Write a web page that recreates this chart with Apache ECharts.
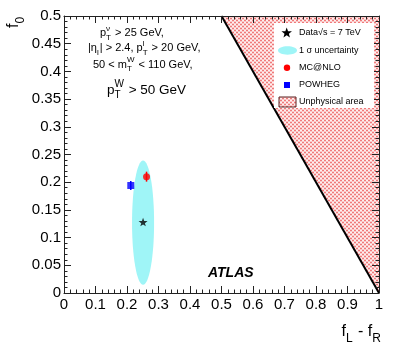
<!DOCTYPE html>
<html><head><meta charset="utf-8">
<script src="https://cdn.jsdelivr.net/npm/echarts@6/dist/echarts.min.js"></script>
<style>html,body{margin:0;padding:0;background:#fff}#c{width:399px;height:349px}</style>
</head><body><div id="c"></div>
<script>
// ---- data ----
const xTickLabels = ['0','0.1','0.2','0.3','0.4','0.5','0.6','0.7','0.8','0.9','1'];
const yTickLabels = ['0','0.05','0.1','0.15','0.2','0.25','0.3','0.35','0.4','0.45','0.5'];
const dataPoint = [0.251, 0.128];
const ellipseCenter = [0.251, 0.127];
const ellipseRadius = [0.035, 0.112];
const mcnloPoint = [0.262, 0.210];
const mcnloErr = [0.009];
const powhegPoint = [0.212, 0.194];
const powhegErr = [0.008];
const unphysX = [0.5, 1, 1];
const unphysY = [0.5, 0.5, 0];
const boundaryX = [0.5, 1];
const boundaryY = [0.5, 0];

const FONT = '"Liberation Sans", Arial, Helvetica, sans-serif';

// hatched pattern
const pc = document.createElement('canvas'); pc.width = 4; pc.height = 4;
const g = pc.getContext('2d');
g.fillStyle = '#fff0f0'; g.fillRect(0,0,4,4);
g.fillStyle = '#f07a7a'; g.fillRect(0,0,2,1); g.fillRect(2,2,2,1);
g.fillStyle = '#f9caca'; g.fillRect(0,1,4,1);  g.fillRect(0,3,4,1);
const hatch = {image: pc, repeat: 'repeat'};

// text measuring
const mc = document.createElement('canvas').getContext('2d');
function tw(t, fs){ mc.font = fs + 'px ' + FONT; return mc.measureText(t).width; }

const ZT = 100;
function txt(x, y, text, font){
  return {type:'text', z:ZT, x:x, y:y, style:{text:text, font:font, fill:'#000', textAlign:'left', textVerticalAlign:'middle', align:'left', verticalAlign:'middle'}};
}
function scriptText(x, y, tokens, fs){
  const els = []; let cx = x; const sfs = Math.round(fs*0.72);
  tokens.forEach(tk => {
    if (typeof tk === 'string'){
      els.push(txt(cx, y, tk, fs+'px '+FONT));
      cx += tw(tk, fs);
    } else {
      let w = 0;
      if (tk.sub){ els.push(txt(cx, y+fs*0.42, tk.sub, sfs+'px '+FONT)); w = Math.max(w, tw(tk.sub, sfs)); }
      if (tk.sup){ els.push(txt(cx, y-fs*0.42, tk.sup, sfs+'px '+FONT)); w = Math.max(w, tw(tk.sup, sfs)); }
      cx += w + 1;
    }
  });
  return els;
}

function starPts(cx, cy, R){
  const pts = []; const r = R*0.42;
  for (let i=0;i<10;i++){ const a = -Math.PI/2 + i*Math.PI/5; const rr = i%2===0?R:r; pts.push([cx+rr*Math.cos(a), cy+rr*Math.sin(a)]); }
  return pts;
}

const annot = [].concat(
  scriptText(100, 33, ['p', {sub:'T', sup:'ν'}, ' > 25 GeV,'], 11),
  scriptText(88, 48, ['|η', {sub:'l'}, '| > 2.4, p', {sub:'T', sup:'l'}, ' > 20 GeV,'], 11),
  scriptText(93, 64.5, ['50 < m', {sub:'T', sup:'W'}, ' < 110 GeV,'], 11),
  scriptText(107, 90, ['p', {sub:'T', sup:'W'}, ' > 50 GeV'], 13.5),
  scriptText(341.5, 332, ['f', {sub:'L'}, ' - f', {sub:'R'}], 16)
);

const yTitle = {type:'group', x:13.5, y:28, rotation:Math.PI/2, children: scriptText(0, 0, ['f', {sub:'0'}], 16)};

const legendEls = [
  {type:'rect', z:ZT, shape:{x:274, y:23, width:100, height:85}, style:{fill:'#fff'}},
  {type:'polygon', z:ZT+1, shape:{points:starPts(286.7, 33, 5.5)}, style:{fill:'#000'}},
  {type:'ellipse', z:ZT+1, shape:{cx:287.5, cy:50.5, rx:9.5, ry:4.2}, style:{fill:'#9ff5f7'}},
  {type:'circle', z:ZT+1, shape:{cx:287, cy:67.7, r:3.2}, style:{fill:'#ff0000'}},
  {type:'rect', z:ZT+1, shape:{x:284, y:82, width:6, height:6}, style:{fill:'#0000ff'}},
  {type:'rect', z:ZT+1, shape:{x:279, y:97, width:17, height:10}, style:{fill:hatch, stroke:'#5a2020', lineWidth:1}},
  Object.assign(txt(299, 33, 'Data√s = 7 TeV', '9px '+FONT), {z:ZT+1}),
  Object.assign(txt(299, 50.5, '1 σ uncertainty', '9px '+FONT), {z:ZT+1}),
  Object.assign(txt(299, 67.7, 'MC@NLO', '9px '+FONT), {z:ZT+1}),
  Object.assign(txt(299, 85, 'POWHEG', '9px '+FONT), {z:ZT+1}),
  Object.assign(txt(299, 102, 'Unphysical area', '9px '+FONT), {z:ZT+1})
];

const atlas = txt(208, 273, 'ATLAS', 'italic bold 14px '+FONT);

const axisCommon = (min, max, interval) => ({
  type:'value', min:min, max:max, interval:interval, z:10,
  axisLine:{show:true, onZero:false, lineStyle:{color:'#222', width:1}},
  axisTick:{show:true, inside:true, length:7, lineStyle:{color:'#222'}},
  minorTick:{show:true, splitNumber:5, length:3.5, lineStyle:{color:'#222'}},
  splitLine:{show:false}, minorSplitLine:{show:false}
});

const chart = echarts.init(document.getElementById('c'), null, {renderer:'canvas'});
chart.setOption({
  animation:false,
  grid:{left:64, right:20, top:16, bottom:56},
  xAxis:[
    Object.assign(axisCommon(0,1,0.1), {position:'bottom', axisLabel:{margin:4, fontSize:15, fontFamily:FONT, color:'#000', formatter:(v)=>xTickLabels[Math.round(v*10)]}}),
    Object.assign(axisCommon(0,1,0.1), {position:'top', axisLabel:{show:false}})
  ],
  yAxis:[
    Object.assign(axisCommon(0,0.5,0.05), {position:'left', axisLabel:{margin:3, fontSize:15, fontFamily:FONT, color:'#000', formatter:(v)=>yTickLabels[Math.round(v*20)]}}),
    Object.assign(axisCommon(0,0.5,0.05), {position:'right', axisLabel:{show:false}})
  ],
  series:[
    {type:'custom', z:1, data:[[0.75,0.25]], clip:true,
     renderItem:(params, api)=>({type:'polygon', shape:{points:unphysX.map((x,i)=>api.coord([x, unphysY[i]]))}, style:{fill:hatch}})},
    {type:'line', z:2, symbol:'none', data:boundaryX.map((x,i)=>[x, boundaryY[i]]), lineStyle:{color:'#000', width:2}},
    {type:'custom', z:3, data:[[ellipseCenter[0], ellipseCenter[1], ellipseRadius[0], ellipseRadius[1]]],
     renderItem:(params, api)=>{ const c = api.coord([api.value(0), api.value(1)]); const s = api.size([api.value(2), api.value(3)]);
       return {type:'ellipse', shape:{cx:c[0], cy:c[1], rx:s[0], ry:s[1]}, style:{fill:'#9ff5f7'}}; }},
    {type:'custom', z:4, data:[[mcnloPoint[0], mcnloPoint[1], mcnloErr[0]]],
     renderItem:(params, api)=>{ const a = api.coord([api.value(0), api.value(1)-api.value(2)]); const b = api.coord([api.value(0), api.value(1)+api.value(2)]);
       return {type:'line', shape:{x1:a[0], y1:a[1], x2:b[0], y2:b[1]}, style:{stroke:'#ff0000', lineWidth:1.5}}; }},
    {type:'custom', z:4, data:[[powhegPoint[0], powhegPoint[1], powhegErr[0]]],
     renderItem:(params, api)=>{ const a = api.coord([api.value(0), api.value(1)-api.value(2)]); const b = api.coord([api.value(0), api.value(1)+api.value(2)]);
       return {type:'line', shape:{x1:a[0], y1:a[1], x2:b[0], y2:b[1]}, style:{stroke:'#0000ff', lineWidth:1.5}}; }},
    {type:'scatter', z:5, data:[mcnloPoint], symbol:'circle', symbolSize:7, itemStyle:{color:'#ff0000'}},
    {type:'scatter', z:5, data:[powhegPoint], symbol:'rect', symbolSize:7, itemStyle:{color:'#0000ff'}},
    {type:'scatter', z:5, data:[dataPoint], symbol:'path://M0,-10L2.35,-3.24L9.51,-3.09L3.8,1.24L5.88,8.09L0,4L-5.88,8.09L-3.8,1.24L-9.51,-3.09L-2.35,-3.24Z', symbolKeepAspect:true, symbolSize:9, itemStyle:{color:'#000'}}
  ],
  graphic:{elements:legendEls.concat(annot, [atlas, Object.assign(yTitle, {z:ZT})])}
});
</script></body></html>
